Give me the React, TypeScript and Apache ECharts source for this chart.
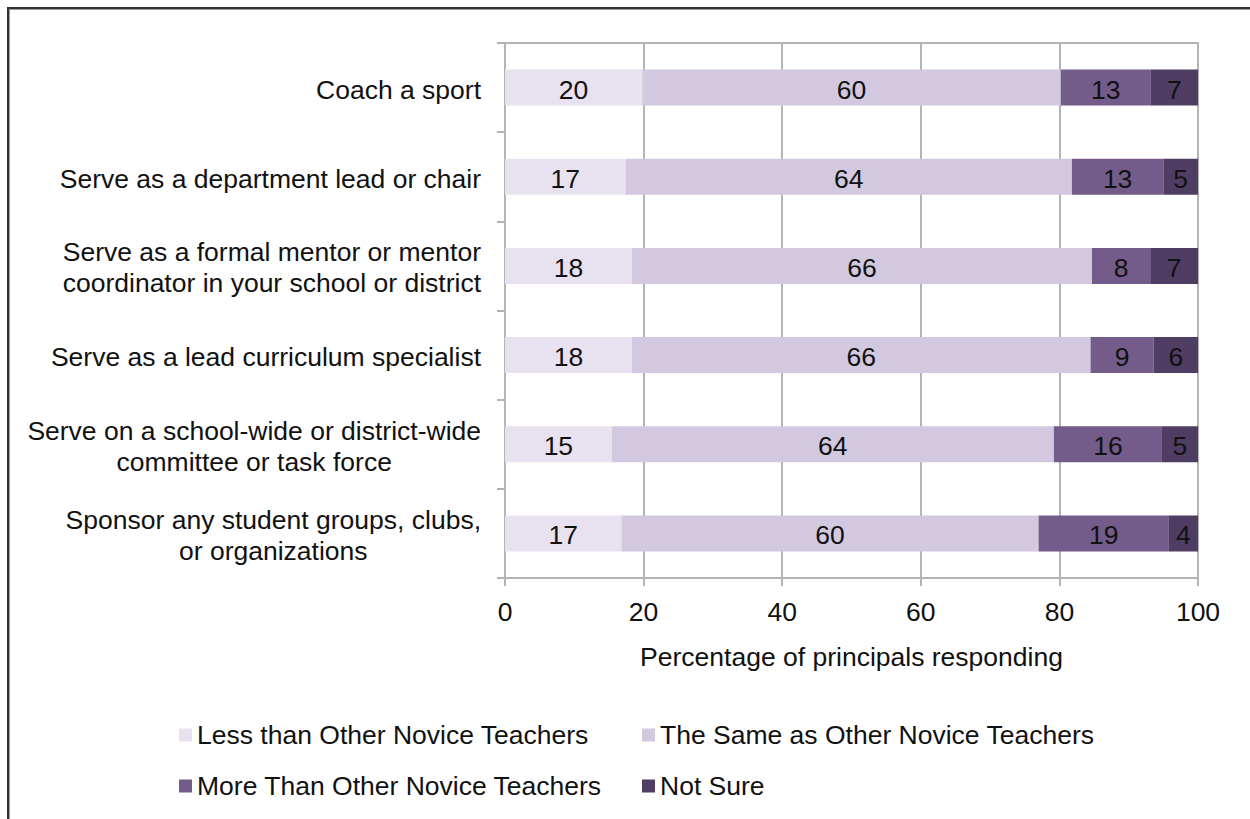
import React, { useEffect, useRef } from "react";
import * as echarts from "echarts";

const categories = [
  "Coach a sport",
  "Serve as a department lead or chair",
  "Serve as a formal mentor or mentor\ncoordinator in your school or district",
  "Serve as a lead curriculum specialist",
  "Serve on a school-wide or district-wide\ncommittee or task force",
  "Sponsor any student groups, clubs,\nor organizations",
];

const seriesNames = [
  "Less than Other Novice Teachers",
  "The Same as Other Novice Teachers",
  "More Than Other Novice Teachers",
  "Not Sure",
];

const lessValues = [19.8, 17.4, 18.3, 18.3, 15.4, 16.8];
const sameValues = [60.4, 64.4, 66.4, 66.2, 63.8, 60.2];
const moreValues = [13.0, 13.2, 8.4, 9.1, 15.6, 18.8];
const notSureValues = [6.8, 5.0, 6.9, 6.4, 5.2, 4.2];

const colors = ["#e8e1ef", "#d2c9e0", "#735b8a", "#4f3d64"];

const xTicks = [0, 20, 40, 60, 80, 100];
const xAxisName = "Percentage of principals responding";

const FONT = "'Liberation Sans', Arial, sans-serif";
const FS = 26.5;

export default function App() {
  const ref = useRef<HTMLDivElement>(null);

  useEffect(() => {
    if (!ref.current) return;
    const chart = echarts.init(ref.current, null, { renderer: "svg" });
    const allValues = [lessValues, sameValues, moreValues, notSureValues];
    const gridColor = "#b4b4b4";
    const legendText = { fontFamily: FONT, fontSize: FS, color: "#111", lineHeight: 30 };
    const option: any = {
      animation: false,
      backgroundColor: "transparent",
      textStyle: { fontFamily: FONT },
      grid: { left: 505, right: 52, top: 43, bottom: 241, containLabel: false },
      legend: [
        {
          data: [seriesNames[0], seriesNames[2]],
          orient: "vertical",
          left: 174,
          top: 715,
          icon: "rect",
          itemWidth: 13,
          itemHeight: 13,
          itemGap: 21,
          itemStyle: { borderWidth: 0 },
          textStyle: legendText,
        },
        {
          data: [seriesNames[1], seriesNames[3]],
          orient: "vertical",
          left: 637,
          top: 715,
          icon: "rect",
          itemWidth: 13,
          itemHeight: 13,
          itemGap: 21,
          itemStyle: { borderWidth: 0 },
          textStyle: legendText,
        },
      ],
      xAxis: [
        {
          type: "value",
          min: 0,
          max: 100,
          interval: 20,
          position: "bottom",
          name: xAxisName,
          nameLocation: "middle",
          nameGap: 65,
          nameTextStyle: { fontFamily: FONT, fontSize: FS, color: "#111" },
          axisLine: { show: true, lineStyle: { color: gridColor, width: 2 } },
          axisTick: { show: true, length: 8, lineStyle: { color: gridColor, width: 2 } },
          axisLabel: {
            fontFamily: FONT,
            fontSize: FS,
            color: "#111",
            margin: 20,
            formatter: (v: number) => (xTicks.includes(v) ? String(v) : ""),
          },
          splitLine: { show: true, lineStyle: { color: gridColor, width: 2 } },
        },
        {
          type: "value",
          min: 0,
          max: 100,
          interval: 20,
          position: "top",
          axisLine: { show: true, lineStyle: { color: gridColor, width: 2 } },
          axisTick: { show: false },
          axisLabel: { show: false },
          splitLine: { show: false },
        },
      ],
      yAxis: {
        type: "category",
        inverse: true,
        data: categories,
        axisLine: { show: true, lineStyle: { color: gridColor, width: 2 } },
        axisTick: { show: true, length: 8, lineStyle: { color: gridColor, width: 2 } },
        axisLabel: {
          margin: 24,
          fontFamily: FONT,
          fontSize: FS,
          color: "#111",
          lineHeight: 31,
          padding: [4, 0, 0, 0],
          formatter: (v: string) =>
            v
              .split("\n")
              .map((l) => `{c|${l}}`)
              .join("\n"),
          rich: {
            c: { align: "center", fontFamily: FONT, fontSize: FS, lineHeight: 31, color: "#111" },
          },
        },
      },
      series: seriesNames.map((name, i) => ({
        name,
        type: "bar",
        stack: "total",
        barWidth: 36,
        xAxisIndex: 0,
        data: allValues[i],
        itemStyle: { color: colors[i] },
        label: {
          show: true,
          position: "inside",
          offset: [0, 2],
          fontFamily: FONT,
          fontSize: FS,
          color: "#111",
          formatter: (p: any) => String(Math.round(p.value)),
        },
      })),
    };
    chart.setOption(option);
    return () => chart.dispose();
  }, []);

  return (
    <div
      style={{
        position: "absolute",
        left: 0,
        top: 0,
        width: 1250,
        height: 819,
        background: "#fff",
        overflow: "hidden",
      }}
    >
      <div ref={ref} style={{ position: "absolute", left: 0, top: 0, width: 1250, height: 819 }} />
      <div
        style={{
          position: "absolute",
          left: 7,
          top: 7,
          width: 1300,
          height: 900,
          borderLeft: "2px solid #333",
          borderTop: "2px solid #333",
          boxShadow: "inset 1px 1px 0 #9a9a9a",
          pointerEvents: "none",
        }}
      />
    </div>
  );
}
